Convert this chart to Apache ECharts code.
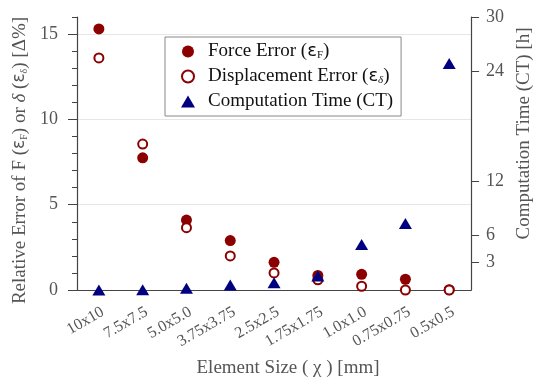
<!DOCTYPE html>
<html>
<head>
<meta charset="utf-8">
<script src="https://cdn.jsdelivr.net/npm/echarts@6/dist/echarts.min.js"></script>
<style>
  html, body { margin: 0; padding: 0; background: #fff; }
  #chart { width: 542px; height: 385px; }
</style>
</head>
<body>
<div id="chart"></div>
<script>
// element sizes (x axis)
var sizes = ['10x10', '7.5x7.5', '5.0x5.0', '3.75x3.75', '2.5x2.5', '1.75x1.75', '1.0x1.0', '0.75x0.75', '0.5x0.5'];
// relative errors [%]
var forceError = [15.3, 7.75, 4.1, 2.9, 1.62, 0.85, 0.92, 0.63, 0.02];
var dispError = [13.6, 8.55, 3.65, 2.0, 1.0, 0.6, 0.22, 0.0, 0.0];
// computation time [h]
var compTime = [0.0, 0.02, 0.2, 0.55, 0.8, 1.55, 5.0, 7.3, 24.9];
// tick labels
var errorLabels = [0, 5, 10, 15];
var timeTicks = [3, 6, 12, 24, 30];
var gridLevels = [5, 10, 15];

var serif = '"Liberation Serif", serif';
var grey = '#555';
var axisCol = '#444';
var red = '#8b0000';
var navy = '#000080';

var subRich = {
    a: {fontFamily: serif, fontSize: 19, color: grey},
    e: {fontFamily: 'DejaVu Sans', fontSize: 17, color: grey},
    s: {fontFamily: serif, fontSize: 10, color: grey, verticalAlign: 'bottom'},
    i: {fontFamily: serif, fontSize: 19, color: grey, fontStyle: 'italic'}
};
var legendRich = {
    a: {fontFamily: serif, fontSize: 19, color: '#111'},
    e: {fontFamily: 'DejaVu Sans', fontSize: 18, color: '#111'},
    s: {fontFamily: serif, fontSize: 11, color: '#111', verticalAlign: 'bottom'},
    i: {fontFamily: serif, fontSize: 11, color: '#111', fontStyle: 'italic', verticalAlign: 'bottom'}
};

var myChart = echarts.init(document.getElementById('chart'));
myChart.setOption({
    animation: false,
    backgroundColor: '#fff',
    textStyle: {fontFamily: serif},
    grid: {left: 77, right: 61, top: 17, bottom: 95},
    legend: {
        orient: 'vertical',
        left: 165,
        top: 37,
        padding: [5, 8, 5, 16],
        itemGap: 6,
        itemWidth: 14,
        itemHeight: 12,
        borderColor: '#888',
        borderWidth: 1,
        borderRadius: 0,
        backgroundColor: '#fff',
        data: ['Force Error', 'Displacement Error', 'Computation Time'],
        formatter: function (name) {
            if (name === 'Force Error') {
                return '{a|Force Error (}{e|ɛ}{s|F}{a|)}';
            }
            if (name === 'Displacement Error') {
                return '{a|Displacement Error (}{e|ɛ}{i|δ}{a|)}';
            }
            return '{a|Computation Time (CT)}';
        },
        textStyle: {fontFamily: serif, fontSize: 19, color: '#111', rich: legendRich, padding: [0, 0, 0, 8]}
    },
    xAxis: {
        type: 'category',
        data: sizes,
        boundaryGap: true,
        name: 'Element Size ( χ ) [mm]',
        nameLocation: 'middle',
        nameGap: 69,
        nameTextStyle: {fontFamily: serif, fontSize: 19, color: grey, padding: [0, 0, 0, 28]},
        axisLine: {lineStyle: {color: axisCol, width: 1.2}},
        axisTick: {alignWithLabel: true, length: 7, lineStyle: {color: axisCol}},
        axisLabel: {
            rotate: 30, fontFamily: serif, fontSize: 16, color: grey,
            margin: 14, interval: 0, verticalAlign: 'top'
        }
    },
    yAxis: [
        {
            type: 'value',
            min: 0,
            max: 16,
            interval: 1,
            position: 'left',
            name: '{a|Relative Error of F (}{e|ɛ}{s|F}{a|) or }{i|δ}{a| (}{e|ɛ}{s|δ}{a|) [Δ%]}',
            nameLocation: 'middle',
            nameRotate: 90,
            nameGap: 46,
            nameTextStyle: {rich: subRich, padding: [0, 14, 0, 0]},
            axisLine: {show: true, lineStyle: {color: axisCol, width: 1.2}},
            axisTick: {show: true, length: 5, lineStyle: {color: axisCol}},
            axisLabel: {fontFamily: serif, fontSize: 18, color: grey, margin: 19, customValues: errorLabels},
            splitLine: {show: false}
        },
        {
            type: 'value',
            min: 0,
            max: 30,
            position: 'right',
            name: 'Computation Time (CT) [h]',
            nameLocation: 'middle',
            nameRotate: 90,
            nameGap: 42,
            nameTextStyle: {fontFamily: serif, fontSize: 19, color: grey, padding: [0, 0, 0, 40]},
            axisLine: {show: true, lineStyle: {color: axisCol, width: 1.2}},
            axisTick: {show: true, length: 8, customValues: timeTicks, lineStyle: {color: axisCol}},
            axisLabel: {fontFamily: serif, fontSize: 18, color: grey, margin: 15, customValues: timeTicks},
            splitLine: {show: false}
        },
        {
            // longer major ticks of the error axis
            type: 'value',
            min: 0,
            max: 16,
            position: 'left',
            axisLine: {show: false},
            axisTick: {show: true, length: 9, customValues: errorLabels, lineStyle: {color: axisCol}},
            axisLabel: {show: false},
            splitLine: {show: false}
        }
    ],
    series: [
        {
            name: 'Force Error',
            type: 'scatter',
            yAxisIndex: 0,
            symbol: 'circle',
            symbolSize: 11,
            clip: false,
            itemStyle: {color: red, opacity: 1},
            data: forceError,
            markLine: {
                silent: true,
                symbol: 'none',
                label: {show: false},
                lineStyle: {color: '#e6e6e6', type: 'solid', width: 1},
                data: gridLevels.map(function (v) { return {yAxis: v}; }),
                z: 0
            }
        },
        {
            name: 'Displacement Error',
            type: 'scatter',
            yAxisIndex: 0,
            symbol: 'circle',
            symbolSize: 9,
            clip: false,
            itemStyle: {color: '#fff', borderColor: red, borderWidth: 2, opacity: 1},
            data: dispError
        },
        {
            name: 'Computation Time',
            type: 'scatter',
            yAxisIndex: 1,
            symbol: 'triangle',
            symbolSize: [13, 11],
            clip: false,
            itemStyle: {color: navy, opacity: 1},
            data: compTime
        }
    ]
});
</script>
</body>
</html>
